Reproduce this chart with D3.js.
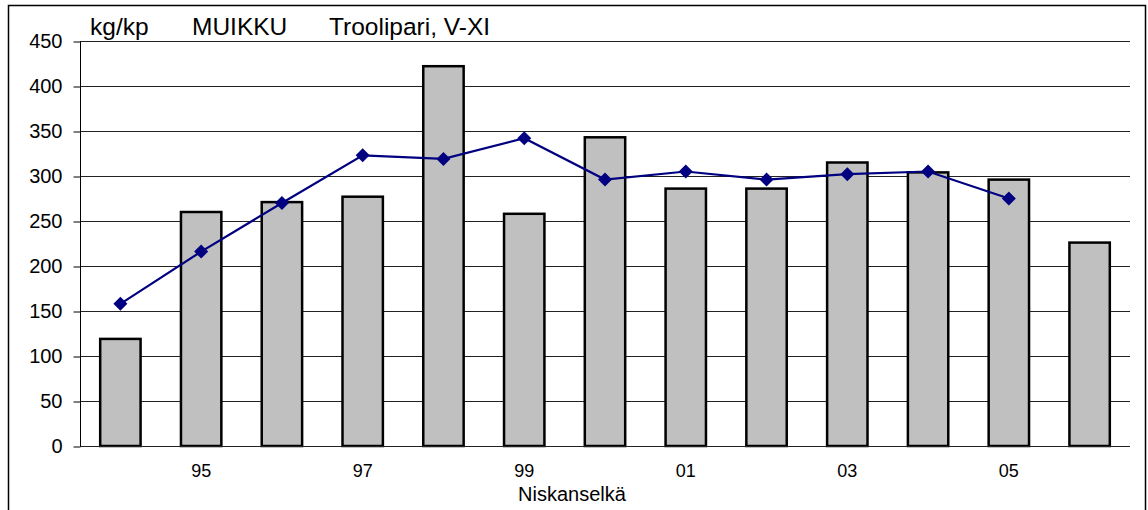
<!DOCTYPE html>
<html><head><meta charset="utf-8">
<script src="https://cdn.jsdelivr.net/npm/d3@7"></script>
<style>body{margin:0;background:#fff}svg{display:block;font-family:"Liberation Sans",Arial,sans-serif}</style>
</head><body><svg id="c" width="1148" height="510"></svg>
<script>
const years = ["94","95","96","97","98","99","00","01","02","03","04","05","06"];
const tickLabels = ["95","97","99","01","03","05"];
const barValues = [119,260,271,277,422,258,343,286,286,315,304,296,226];
const lineYears = ["94","95","96","97","98","99","00","01","02","03","04","05"];
const lineValues = [158,216,270,323,319,342,296,305,296,302,305,275];
const yTicks = [0,50,100,150,200,250,300,350,400,450];

const svg = d3.select("#c");
const L=80,R=1130,T=41,B=446;
// frame
svg.append("path").attr("d","M8.5,515 V5.5 H1145.5 V515").attr("fill","none").attr("stroke","#000").attr("stroke-width",1.5);

const x = d3.scaleBand().domain(years).range([L,R]).paddingInner(0.5).paddingOuter(0.25);
const y = d3.scaleLinear().domain([0,450]).range([B,T]);

// gridlines
svg.append("g").selectAll("line").data(yTicks).join("line")
 .attr("x1",L).attr("x2",R).attr("y1",d=>Math.round(y(d))+0.5).attr("y2",d=>Math.round(y(d))+0.5)
 .attr("stroke","#222").attr("stroke-width",1);

// y axis
const ya = svg.append("g").attr("transform",`translate(${L+0.5},0.5)`)
 .call(d3.axisLeft(y).tickValues(yTicks).tickSize(7).tickPadding(11));
ya.select(".domain").attr("d",`M0,${T}V${B}`);
ya.selectAll("text").attr("font-size",20).attr("fill","#000").attr("font-family","Liberation Sans, Arial, sans-serif");

// bars
svg.append("g").selectAll("rect").data(barValues).join("rect")
 .attr("x",(d,i)=>x(years[i])).attr("width",x.bandwidth())
 .attr("y",d=>y(d)).attr("height",d=>B-y(d))
 .attr("fill","#c0c0c0").attr("stroke","#000").attr("stroke-width",2.5);

// x axis baseline
svg.append("line").attr("x1",L).attr("x2",R).attr("y1",B+0.5).attr("y2",B+0.5).attr("stroke","#222");

// x labels
const xa = svg.append("g").attr("transform",`translate(0,${B})`)
 .call(d3.axisBottom(x).tickValues(tickLabels).tickSize(0).tickPadding(18));
xa.select(".domain").remove();
xa.selectAll("text").attr("font-size",18).attr("fill","#000").attr("font-family","Liberation Sans, Arial, sans-serif");

// line
const cx = d=>x(d)+x.bandwidth()/2;
svg.append("path").datum(lineValues)
 .attr("d",d3.line().x((d,i)=>cx(lineYears[i])).y(d=>y(d)))
 .attr("fill","none").attr("stroke","#000080").attr("stroke-width",2.2);
svg.append("g").selectAll("path").data(lineValues).join("path")
 .attr("transform",(d,i)=>`translate(${cx(lineYears[i])},${y(d)})`)
 .attr("d","M0,-7L7,0L0,7L-7,0Z").attr("fill","#000080");

// titles
const tt = svg.append("g").attr("font-size",24.5).attr("fill","#000");
tt.append("text").attr("x",90).attr("y",35).text("kg/kp");
tt.append("text").attr("x",192).attr("y",35).text("MUIKKU");
tt.append("text").attr("x",329).attr("y",35).text("Troolipari, V-XI");
svg.append("text").attr("x",572).attr("y",501).attr("text-anchor","middle").attr("font-size",20).text("Niskanselkä");
</script></body></html>
